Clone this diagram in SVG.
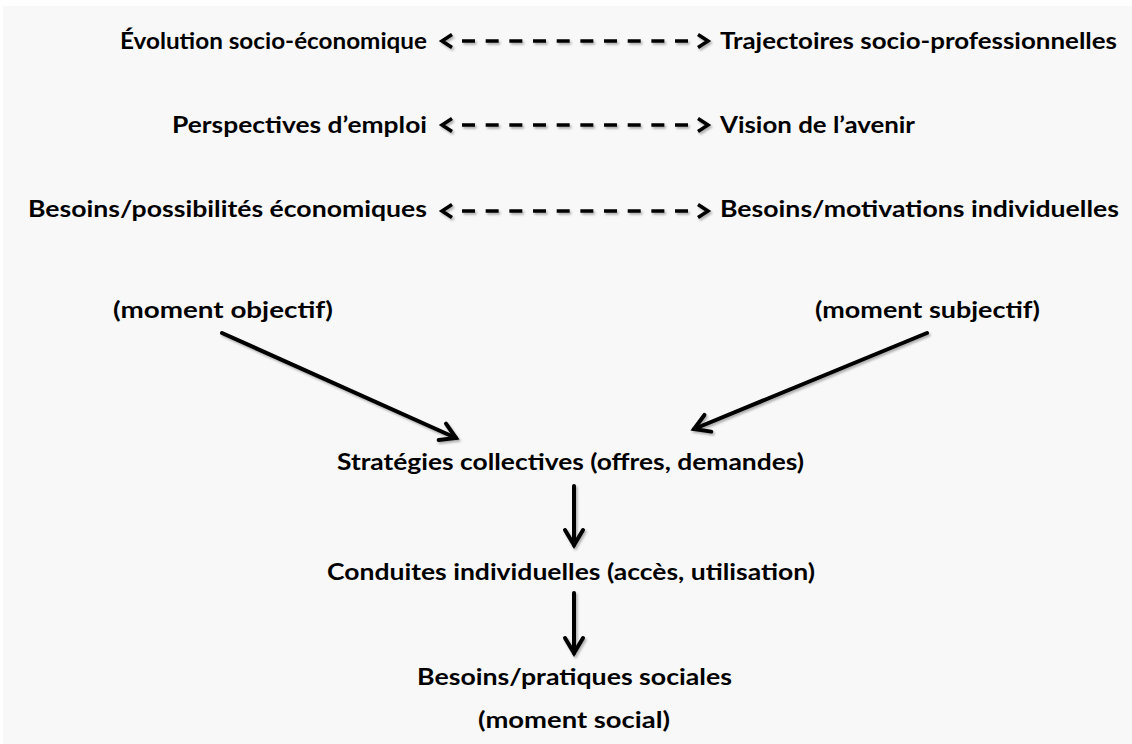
<svg xmlns="http://www.w3.org/2000/svg" width="1132" height="744" viewBox="0 0 1132 744">
  <defs>
    <style>
      .t { font-family: Lato, "Open Sans", "Liberation Sans", sans-serif; font-weight: 700; font-size: 22.5px; fill: #000; }
      .dash { stroke: #000; stroke-width: 3.5; fill: none; stroke-dasharray: 13 10.67; }
      .solid { stroke: #000; stroke-width: 4; fill: none; stroke-linecap: round; }
    </style>
    <filter id="sh" x="-10%" y="-30%" width="120%" height="160%">
      <feDropShadow dx="1.5" dy="2" stdDeviation="1.2" flood-color="#000" flood-opacity="0.3"/>
    </filter>
    <marker id="chev" markerUnits="userSpaceOnUse" orient="auto-start-reverse" markerWidth="40" markerHeight="40" refX="0" refY="0" viewBox="-20 -20 40 40" overflow="visible">
      <path d="M10,-6.5 L20,0 L10,6.5" fill="none" stroke="#000" stroke-width="3.5" stroke-linejoin="miter"/>
    </marker>
    <marker id="head" markerUnits="userSpaceOnUse" orient="auto" markerWidth="40" markerHeight="40" refX="0" refY="0" viewBox="-20 -20 40 40" overflow="visible">
      <path d="M-15,-9 L0,0 L-15,9" fill="none" stroke="#000" stroke-width="4" stroke-linecap="round" stroke-linejoin="miter"/>
    </marker>
  </defs>
  <rect x="0" y="0" width="1132" height="744" fill="#ffffff"/>
  <rect x="3" y="6" width="1129" height="738" fill="#f8f8f8"/>

  <g id="n-evolution"><text class="t" x="427" y="49" text-anchor="end" textLength="307" lengthAdjust="spacingAndGlyphs">Évolution socio-économique</text></g>
  <g id="n-trajectoires"><text class="t" x="720" y="49" textLength="397" lengthAdjust="spacingAndGlyphs">Trajectoires socio-professionnelles</text></g>
  <g id="n-perspectives"><text class="t" x="427" y="133" text-anchor="end" textLength="255" lengthAdjust="spacingAndGlyphs">Perspectives d’emploi</text></g>
  <g id="n-vision"><text class="t" x="720" y="133" textLength="195" lengthAdjust="spacingAndGlyphs">Vision de l’avenir</text></g>
  <g id="n-besoins-eco"><text class="t" x="427" y="217" text-anchor="end" textLength="399" lengthAdjust="spacingAndGlyphs">Besoins/possibilités économiques</text></g>
  <g id="n-besoins-ind"><text class="t" x="720" y="217" textLength="399" lengthAdjust="spacingAndGlyphs">Besoins/motivations individuelles</text></g>
  <g id="n-objectif"><text class="t" x="113" y="318" textLength="220" lengthAdjust="spacingAndGlyphs">(moment objectif)</text></g>
  <g id="n-subjectif"><text class="t" x="815" y="318" textLength="225" lengthAdjust="spacingAndGlyphs">(moment subjectif)</text></g>
  <g id="n-strategies"><text class="t" x="337" y="470" textLength="467" lengthAdjust="spacingAndGlyphs">Stratégies collectives (offres, demandes)</text></g>
  <g id="n-conduites"><text class="t" x="327" y="580" textLength="488" lengthAdjust="spacingAndGlyphs">Conduites individuelles (accès, utilisation)</text></g>
  <g id="n-social">
    <text class="t" x="417" y="685" textLength="315" lengthAdjust="spacingAndGlyphs">Besoins/pratiques sociales</text>
    <text class="t" x="478" y="728" textLength="192" lengthAdjust="spacingAndGlyphs">(moment social)</text>
  </g>

  <g id="connectors" filter="url(#sh)">
    <line class="dash" x1="462" y1="41" x2="688" y2="41" marker-start="url(#chev)" marker-end="url(#chev)"/>
    <line class="dash" x1="462" y1="125" x2="688" y2="125" marker-start="url(#chev)" marker-end="url(#chev)"/>
    <line class="dash" x1="462" y1="211" x2="688" y2="211" marker-start="url(#chev)" marker-end="url(#chev)"/>
    <line class="solid" x1="222" y1="333" x2="456" y2="438" marker-end="url(#head)"/>
    <line class="solid" x1="927" y1="333" x2="694" y2="429" marker-end="url(#head)"/>
    <line class="solid" x1="574" y1="486" x2="574" y2="545" marker-end="url(#head)"/>
    <line class="solid" x1="574" y1="593" x2="574" y2="653" marker-end="url(#head)"/>
  </g>
</svg>
